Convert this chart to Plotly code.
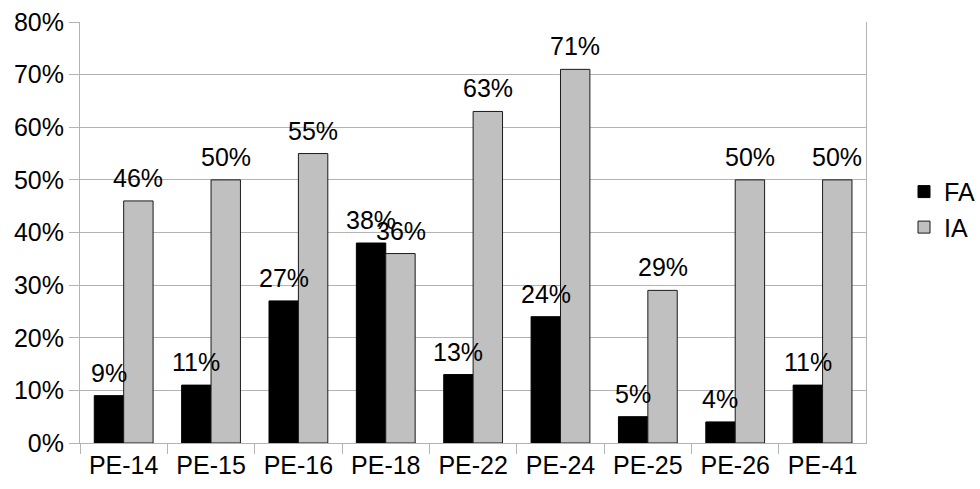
import plotly.graph_objects as go

categories = ["PE-14", "PE-15", "PE-16", "PE-18", "PE-22", "PE-24", "PE-25", "PE-26", "PE-41"]
fa_values = [0.09, 0.11, 0.27, 0.38, 0.13, 0.24, 0.05, 0.04, 0.11]
ia_values = [0.46, 0.50, 0.55, 0.36, 0.63, 0.71, 0.29, 0.50, 0.50]
y_ticks = [0, 0.1, 0.2, 0.3, 0.4, 0.5, 0.6, 0.7, 0.8]

FONT = "Liberation Sans, Arial, sans-serif"
FS = 25

fig = go.Figure()
fig.add_trace(go.Bar(name="FA", x=categories, y=fa_values,
                     marker=dict(color="#000000", line=dict(color="#000000", width=1))))
fig.add_trace(go.Bar(name="IA", x=categories, y=ia_values,
                     marker=dict(color="#c0c0c0", line=dict(color="#1a1a1a", width=1))))

# value labels above each bar
bar_half = 14.75
for cat, v in zip(categories, fa_values):
    fig.add_annotation(x=cat, y=v, text=f"{round(v*100)}%", showarrow=False,
                       xshift=-bar_half, yshift=7, yanchor="bottom",
                       font=dict(family=FONT, size=FS, color="#000"))
for cat, v in zip(categories, ia_values):
    fig.add_annotation(x=cat, y=v, text=f"{round(v*100)}%", showarrow=False,
                       xshift=bar_half, yshift=7, yanchor="bottom",
                       font=dict(family=FONT, size=FS, color="#000"))

fig.update_layout(
    width=980, height=489,
    margin=dict(l=80, r=0, t=22, b=46),
    paper_bgcolor="white", plot_bgcolor="white",
    barmode="group", bargap=0.327, bargroupgap=0,
    font=dict(family=FONT, size=FS, color="#000"),
    showlegend=True,
    legend=dict(x=0.918, y=0.555, xanchor="left", yanchor="middle",
                font=dict(family=FONT, size=FS, color="#000"),
                itemwidth=30, tracegroupgap=0, bgcolor="rgba(0,0,0,0)"),
    xaxis=dict(domain=[0, 788 / 900],
               showline=True, linecolor="#b3b3b3", linewidth=1,
               ticks="outside", tickson="boundaries", ticklen=10,
               tickcolor="#b3b3b3", showgrid=False,
               tickfont=dict(family=FONT, size=FS, color="#000")),
    yaxis=dict(range=[0, 0.8], tickvals=y_ticks, tickformat=".0%",
               showline=True, linecolor="#b3b3b3", linewidth=1, mirror=True,
               ticks="outside", ticklen=10, tickcolor="#b3b3b3",
               showgrid=True, gridcolor="#b3b3b3", gridwidth=1,
               zeroline=False,
               tickfont=dict(family=FONT, size=FS, color="#000")),
)

fig.write_html("out.html", config={"displayModeBar": False},
               post_script="document.body.style.margin='0';")
